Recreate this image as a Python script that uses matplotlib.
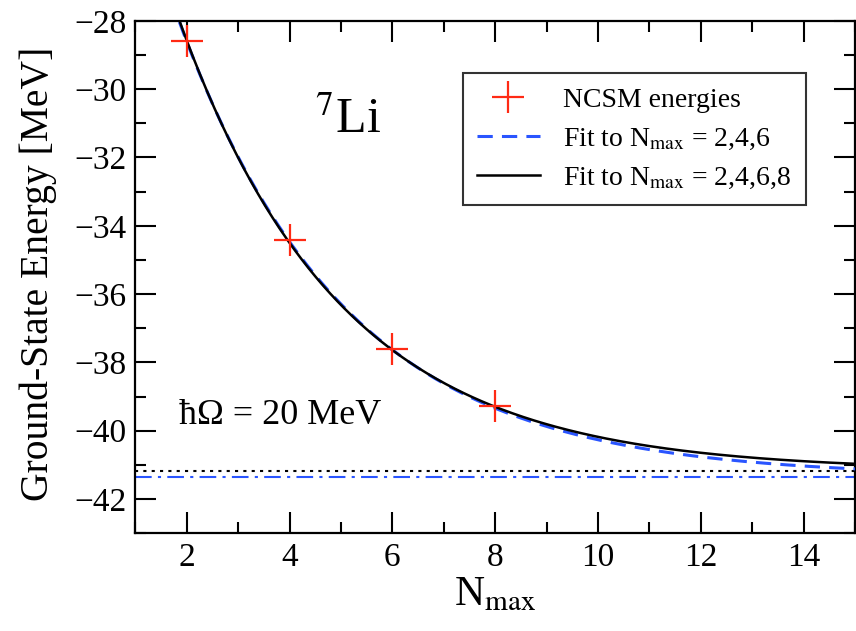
import numpy as np
import matplotlib
matplotlib.use("Agg")
import matplotlib.pyplot as plt
from matplotlib.ticker import MultipleLocator

plt.rcParams['font.family'] = ['Liberation Serif', 'DejaVu Serif']
plt.rcParams['mathtext.fontset'] = 'stix'

# NCSM ground-state energies of 7Li (hbar*Omega = 20 MeV)
n_max = [2, 4, 6, 8]
energies = [-28.58, -34.42, -37.60, -39.28]

# Exponential extrapolation E(N) = E_inf + a * exp(-b * N)
fit_246 = dict(e_inf=-41.35, a=23.6, b=0.308)
fit_2468 = dict(e_inf=-41.17, a=23.8, b=0.318)

x_ticks = [2, 4, 6, 8, 10, 12, 14]
y_ticks = [-42, -40, -38, -36, -34, -32, -30, -28]


def model(n, p):
    return p['e_inf'] + p['a'] * np.exp(-p['b'] * n)


fig = plt.figure(figsize=(8.56, 6.31), dpi=100)
ax = fig.add_axes([0.158, 0.155, 0.841, 0.812])

n = np.linspace(1, 15, 400)
red = '#ff2a14'
blue = '#2a55ff'

ax.plot(n, model(n, fit_246), color=blue, lw=2.2, ls=(0, (5, 3)),
        label=r'Fit to N$_{\rm max}$ = 2,4,6', zorder=3)
ax.plot(n, model(n, fit_2468), color='black', lw=1.8,
        label=r'Fit to N$_{\rm max}$ = 2,4,6,8', zorder=4)
ax.axhline(fit_2468['e_inf'], color='black', lw=1.5, ls=(0, (1.5, 2.5)), zorder=2)
ax.axhline(fit_246['e_inf'], color=blue, lw=1.5, ls=(0, (8, 3, 1.5, 3)), zorder=2)
ax.plot(n_max, energies, ls='none', marker='+', ms=23, mew=1.6, color=red,
        label='NCSM energies', zorder=5)

ax.set_xlim(1, 15)
ax.set_ylim(-43, -28)
ax.set_xticks(x_ticks)
ax.set_yticks(y_ticks)
ax.xaxis.set_minor_locator(MultipleLocator(1))
ax.yaxis.set_minor_locator(MultipleLocator(1))
ax.tick_params(which='both', direction='in', top=True, right=True, width=1.5,
               labelsize=24, pad=6.5)
ax.tick_params(which='major', length=15)
ax.tick_params(which='minor', length=8)
ax.set_yticklabels([f'\u2212{abs(v)}' for v in y_ticks])
for s in ax.spines.values():
    s.set_linewidth(1.6)

ax.set_xlabel(r'N$_{\rm max}$', fontsize=30, labelpad=2)
ax.set_ylabel('Ground-State Energy [MeV]', fontsize=28.5)
ax.yaxis.set_label_coords(-0.108, 0.506)

ax.text(4.5, -31.28, r'$^{7}$Li', fontsize=36, ha='left', va='baseline')
ax.text(1.85, -39.55, 'ħΩ = 20 MeV', fontsize=26, ha='left', va='center')

handles, labels = ax.get_legend_handles_labels()
order = [2, 0, 1]
leg = ax.legend([handles[i] for i in order], [labels[i] for i in order],
                loc='upper left', bbox_to_anchor=(0.455, 0.898), fontsize=20,
                frameon=True, fancybox=False, edgecolor='black',
                handlelength=2.25, handletextpad=0.85, borderpad=0.52,
                labelspacing=0.48, borderaxespad=0)
leg.get_frame().set_linewidth(1.5)

fig.savefig('out.png', dpi=100)
